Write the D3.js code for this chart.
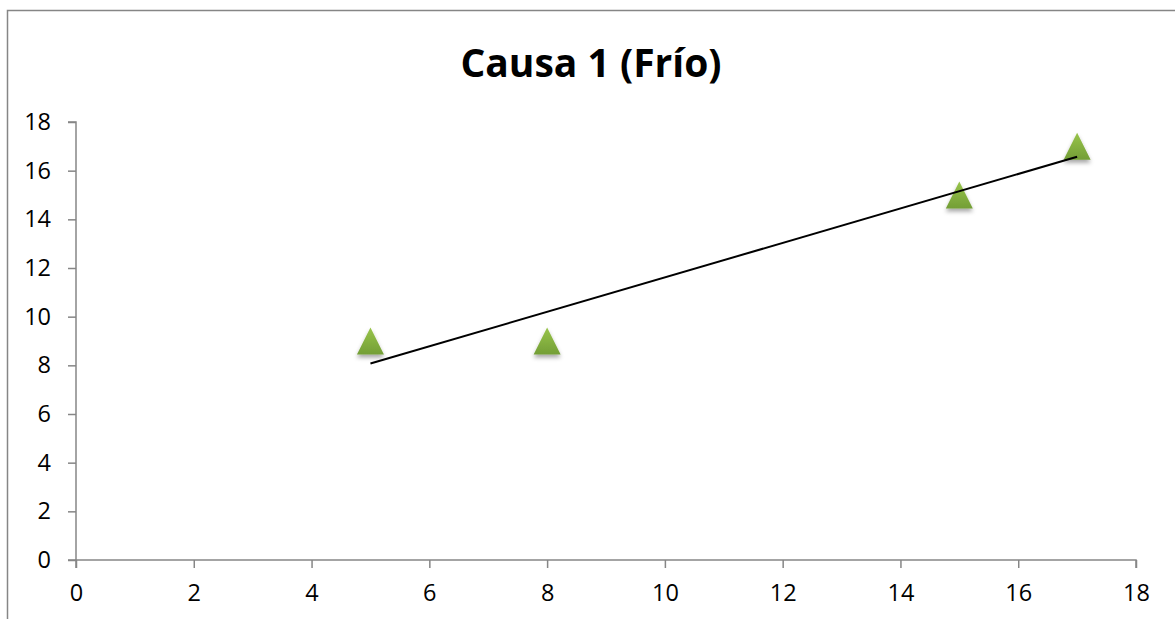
<!DOCTYPE html>
<html>
<head>
<meta charset="utf-8">
<script src="https://cdn.jsdelivr.net/npm/d3@7"></script>
<style>
  html, body { margin: 0; padding: 0; background: #fff; }
  svg { display: block; }
  text { font-family: "Open Sans", "Liberation Sans", sans-serif; fill: #000; }
</style>
</head>
<body>
<svg id="chart" width="1175" height="619"></svg>
<script>
// Observations: x and y value of each point
const xValues = [5, 8, 15, 17];
const yValues = [9, 9, 15, 17];
const xTicks = [0, 2, 4, 6, 8, 10, 12, 14, 16, 18];
const yTicks = [0, 2, 4, 6, 8, 10, 12, 14, 16, 18];
const chartTitle = "Causa 1 (Frío)";

const svg = d3.select("#chart");
const W = 1175, H = 619;

// outer chart frame (extends past right/bottom edges)
svg.append("rect")
  .attr("x", 7.5).attr("y", 10.5)
  .attr("width", W + 10).attr("height", H + 10)
  .attr("fill", "#fff")
  .attr("stroke", "#868686").attr("stroke-width", 1.5);

const x = d3.scaleLinear().domain([0, 18]).range([76, 1136]);
const y = d3.scaleLinear().domain([0, 18]).range([560, 122]);

const defs = svg.append("defs");
const grad = defs.append("linearGradient")
  .attr("id", "markerFill").attr("x1", 0).attr("y1", 0).attr("x2", 0).attr("y2", 1);
grad.append("stop").attr("offset", "0%").attr("stop-color", "#98c44a");
grad.append("stop").attr("offset", "100%").attr("stop-color", "#739e36");

const shadow = defs.append("filter").attr("id", "markerShadow")
  .attr("x", "-50%").attr("y", "-50%").attr("width", "200%").attr("height", "200%");
shadow.append("feGaussianBlur").attr("in", "SourceGraphic").attr("stdDeviation", 0.5).attr("result", "soft");
shadow.append("feDropShadow")
  .attr("in", "soft")
  .attr("dx", 0).attr("dy", 3).attr("stdDeviation", 2)
  .attr("flood-color", "#000").attr("flood-opacity", 0.35);

// title
svg.append("text")
  .attr("x", 591).attr("y", 77)
  .attr("text-anchor", "middle")
  .attr("font-size", 39).attr("font-weight", "bold")
  .text(chartTitle);

// axes
const axisColor = "#868686";
const xAxis = svg.append("g")
  .attr("transform", `translate(0,${y(0)})`)
  .call(d3.axisBottom(x).tickValues(xTicks).tickSize(8).tickPadding(16).tickFormat(d3.format("d")));
const yAxis = svg.append("g")
  .attr("transform", `translate(${x(0)},0)`)
  .call(d3.axisLeft(y).tickValues(yTicks).tickSize(8).tickPadding(17).tickFormat(d3.format("d")));

[xAxis, yAxis].forEach(g => {
  g.select(".domain").attr("stroke", axisColor).attr("stroke-width", 1.5);
  g.selectAll(".tick line").attr("stroke", axisColor).attr("stroke-width", 1.5);
  g.selectAll(".tick text")
    .attr("font-size", 23.5)
    .attr("fill", "#000");
});
// outer domain caps: keep the axis line flush with the ticks
xAxis.select(".domain").attr("d", `M${x(0)},8V0H${x(18)}V8`);
yAxis.select(".domain").attr("d", `M-8,${y(18)}H0V${y(0)}H-8`);

// linear least-squares trendline
const pts = xValues.map((v, i) => ({ x: v, y: yValues[i] }));
const reg = (() => {
  const mx = d3.mean(pts, d => d.x), my = d3.mean(pts, d => d.y);
  const sxy = d3.sum(pts, d => (d.x - mx) * (d.y - my));
  const sxx = d3.sum(pts, d => (d.x - mx) ** 2);
  const b = sxy / sxx;
  return { b, a: my - b * mx };
})();
const xMin = d3.min(xValues), xMax = d3.max(xValues);

// isosceles triangle marker, as tall as it is wide
const tallTriangle = {
  draw(ctx, size) {
    const s = Math.sqrt(size);
    ctx.moveTo(0, -s / 2);
    ctx.lineTo(s / 2, s / 2);
    ctx.lineTo(-s / 2, s / 2);
    ctx.closePath();
  }
};
const tri = d3.symbol().type(tallTriangle).size(27 * 27);
svg.append("g").selectAll("path")
  .data(pts)
  .join("path")
  .attr("d", tri)
  .attr("transform", d => `translate(${x(d.x)},${y(d.y)})`)
  .attr("fill", "url(#markerFill)")
  .attr("filter", "url(#markerShadow)");

svg.append("line")
  .attr("x1", x(xMin)).attr("y1", y(reg.a + reg.b * xMin))
  .attr("x2", x(xMax)).attr("y2", y(reg.a + reg.b * xMax))
  .attr("stroke", "#000").attr("stroke-width", 2);
</script>
</body>
</html>
